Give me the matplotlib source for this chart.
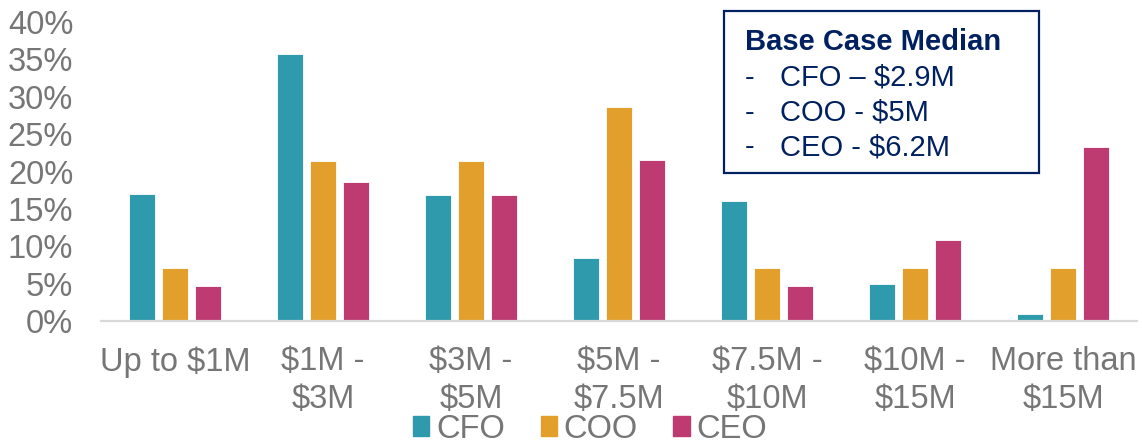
import numpy as np
import matplotlib.pyplot as plt
from matplotlib.patches import Rectangle, Patch

plt.rcParams['font.family'] = ['Liberation Sans', 'DejaVu Sans']

categories = ['Up to $1M', '$1M -\n$3M', '$3M -\n$5M', '$5M -\n$7.5M',
              '$7.5M -\n$10M', '$10M -\n$15M', 'More than\n$15M']
cfo = [17.0, 35.7, 16.9, 8.4, 16.0, 5.0, 0.9]
coo = [7.1, 21.4, 21.4, 28.6, 7.1, 7.1, 7.1]
ceo = [4.7, 18.6, 16.9, 21.5, 4.7, 10.8, 23.3]
series = [('CFO', cfo, '#2e9aab'), ('COO', coo, '#e39f2c'), ('CEO', ceo, '#be3b72')]

medians = [('CFO \u2013 $2.9M'), ('COO - $5M'), ('CEO - $6.2M')]

grey = '#767676'
navy = '#002060'

fig = plt.figure(figsize=(11.42, 4.44), dpi=100)
ax = fig.add_axes([101 / 1142, 0.277, 1036 / 1142, 0.6734])

x = np.arange(len(categories))
width = 0.176
step = 0.223
for i, (name, vals, color) in enumerate(series):
    ax.bar(x + (i - 1) * step, vals, width, color=color, label=name,
           edgecolor='white', linewidth=0.6)

ax.set_xlim(-0.5, len(categories) - 0.5)
ax.set_ylim(0, 40)
ax.set_yticks(range(0, 41, 5))
ax.set_yticklabels(['{}%'.format(v) for v in range(0, 41, 5)])
ax.set_xticks(x)
ax.set_xticklabels(categories, linespacing=1.3)
ax.tick_params(axis='y', length=0, pad=20, labelsize=23.5, labelcolor=grey)
ax.tick_params(axis='x', length=0, pad=18, labelsize=23.5, labelcolor=grey)

for side in ['top', 'right', 'left']:
    ax.spines[side].set_visible(False)
ax.spines['bottom'].set_color('#d9d9d9')
ax.spines['bottom'].set_linewidth(1.6)

handles = [Patch(color=c, label=n) for n, _, c in series]
fig.legend(handles=handles, loc='center', bbox_to_anchor=(590 / 1142, (444 - 429) / 444),
           ncol=3, frameon=False, fontsize=23.5, labelcolor=grey,
           handlelength=0.5, handleheight=0.56, handletextpad=0.2,
           columnspacing=1.1, borderpad=0)

# median summary box
fig.patches.append(Rectangle((724 / 1142, (444 - 173) / 444), 315 / 1142, 162 / 444,
                             transform=fig.transFigure, fill=False,
                             edgecolor=navy, linewidth=1.6))
fig.text(745 / 1142, (444 - 50) / 444, 'Base Case Median', color=navy,
         fontsize=21, fontweight='bold', va='baseline')
for j, line in enumerate(medians):
    yb = (444 - (86 + j * 34.5)) / 444
    fig.text(745 / 1142, yb, '-', color=navy, fontsize=21, va='baseline')
    fig.text(780 / 1142, yb, line, color=navy, fontsize=21, va='baseline')

fig.savefig('out.png', dpi=100)
